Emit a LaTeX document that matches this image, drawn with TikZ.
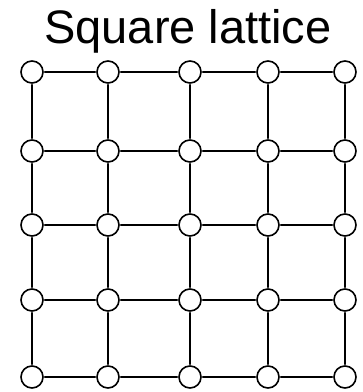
\documentclass[tikz,border=0pt]{standalone}
\usepackage{fontspec}
\setmainfont{Liberation Sans}
\usetikzlibrary{calc}
\tikzset{
  site/.style  = {circle, draw, line width=1.6pt, minimum size=22pt, inner sep=0pt},
  bond/.style  = {line width=1.5pt, line cap=round, shorten <=1pt, shorten >=1pt},
  title/.style = {font=\fontsize{47}{47}\selectfont, anchor=base}
}
\begin{document}
\begin{tikzpicture}[x=1pt,y=-1pt]
  \useasboundingbox (0,0) rectangle (363,392);
  \node[title] (ttl) at (188,43) {Square lattice};
  % sites
  \foreach \i/\x in {1/32,2/108,3/190,4/268,5/345}{
    \foreach \j/\y in {1/72,2/151,3/225,4/300,5/377}{
      \node[site] (s\i\j) at (\x,\y) {};
    }
  }
  % horizontal bonds
  \foreach \j in {1,...,5}{
    \foreach \i/\k in {1/2,2/3,3/4,4/5}{
      \draw[bond] (s\i\j) -- (s\k\j);
    }
  }
  % vertical bonds
  \foreach \i in {1,...,5}{
    \foreach \j/\k in {1/2,2/3,3/4,4/5}{
      \draw[bond] (s\i\j) -- (s\i\k);
    }
  }
\end{tikzpicture}
\end{document}
